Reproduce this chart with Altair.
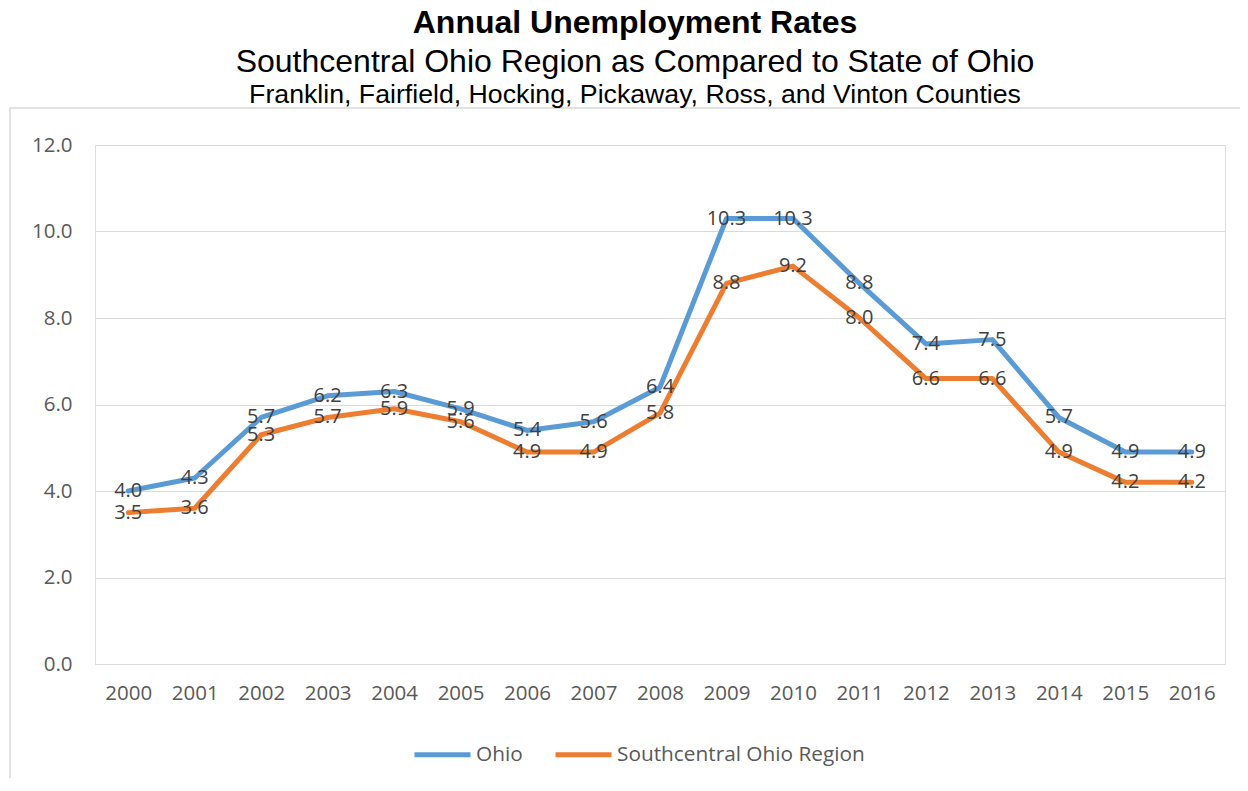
import altair as alt
import pandas as pd

years = ["2000", "2001", "2002", "2003", "2004", "2005", "2006", "2007", "2008",
         "2009", "2010", "2011", "2012", "2013", "2014", "2015", "2016"]
ohio = [4.0, 4.3, 5.7, 6.2, 6.3, 5.9, 5.4, 5.6, 6.4, 10.3, 10.3, 8.8, 7.4, 7.5, 5.7, 4.9, 4.9]
region = [3.5, 3.6, 5.3, 5.7, 5.9, 5.6, 4.9, 4.9, 5.8, 8.8, 9.2, 8.0, 6.6, 6.6, 4.9, 4.2, 4.2]
series_names = ["Ohio", "Southcentral Ohio Region"]
series_colors = ["#5B9BD5", "#ED7D31"]
y_ticks = [0, 2, 4, 6, 8, 10, 12]

title_1 = "Annual Unemployment Rates"
title_2 = "Southcentral Ohio Region as Compared to State of Ohio"
title_3 = "Franklin, Fairfield, Hocking, Pickaway, Ross, and Vinton Counties"

rows = []
for name, vals in zip(series_names, [ohio, region]):
    for yr, v in zip(years, vals):
        rows.append({"Year": yr, "Rate": v, "Series": name})
df = pd.DataFrame(rows)

W, H = 1130, 519
FONT = "Open Sans"
XPAD = 0.5

x_enc = alt.X("Year:O", scale=alt.Scale(type="point", padding=XPAD),
              axis=alt.Axis(title=None, labelAngle=0, domain=False, ticks=False,
                            labelPadding=19, labelFontSize=20.5, labelFont=FONT,
                            labelColor="#595959", grid=False))
y_enc = alt.Y("Rate:Q", scale=alt.Scale(domain=[0, 12], nice=False),
              axis=alt.Axis(title=None, values=y_ticks, format=".1f", domain=False,
                            ticks=False, labelPadding=23, labelFontSize=20.5,
                            labelFont=FONT, labelColor="#595959",
                            gridColor="#D9D9D9", gridWidth=1.2))

border = alt.Chart(pd.DataFrame({"a": [1]})).mark_rect(
    fill=None, stroke="#D9D9D9", strokeWidth=1.5
).encode(x=alt.value(-85), x2=alt.value(1200), y=alt.value(-37), y2=alt.value(700))

lines = alt.Chart(df).mark_line(strokeWidth=5, strokeCap="round", strokeJoin="round").encode(
    x=x_enc, y=y_enc,
    color=alt.Color("Series:N",
                    scale=alt.Scale(domain=series_names, range=series_colors),
                    legend=alt.Legend(title=None, orient="none", direction="horizontal",
                                      legendX=317, legendY=579, symbolType="stroke",
                                      symbolSize=3136, symbolStrokeWidth=5,
                                      labelFont=FONT, labelFontSize=20.8,
                                      labelColor="#595959", labelOffset=3,
                                      labelLimit=400,
                                      columnPadding=22, padding=0)),
    detail="Series:N",
)

labels = alt.Chart(df).mark_text(font=FONT, fontSize=20, color="#404040",
                                 align="center", baseline="middle").encode(
    x=alt.X("Year:O", scale=alt.Scale(type="point", padding=XPAD)),
    y=alt.Y("Rate:Q", scale=alt.Scale(domain=[0, 12], nice=False)),
    text=alt.Text("Rate:Q", format=".1f"),
)

tdf = pd.DataFrame({"t1": [title_1], "t2": [title_2], "t3": [title_3]})
t1 = alt.Chart(tdf).mark_text(font="Liberation Sans", fontSize=32, fontWeight="bold",
                              color="#000000", align="center", baseline="middle").encode(
    text="t1:N", x=alt.value(540), y=alt.value(-122))
t2 = alt.Chart(tdf).mark_text(font="Liberation Sans", fontSize=32, color="#000000",
                              align="center", baseline="middle").encode(
    text="t2:N", x=alt.value(540), y=alt.value(-83))
t3 = alt.Chart(tdf).mark_text(font="Liberation Sans", fontSize=26.7, color="#000000",
                              align="center", baseline="middle").encode(
    text="t3:N", x=alt.value(540), y=alt.value(-50))

chart = alt.layer(border, lines, labels, t1, t2, t3).properties(
    width=W, height=H,
    autosize=alt.AutoSizeParams(type="none"),
    padding={"left": 87, "top": 137, "right": 1232 - 87 - W, "bottom": 770 - 137 - H},
).configure_view(stroke=None).configure(background="white")

chart.save("out.html", embed_options={"renderer": "svg", "actions": False})
